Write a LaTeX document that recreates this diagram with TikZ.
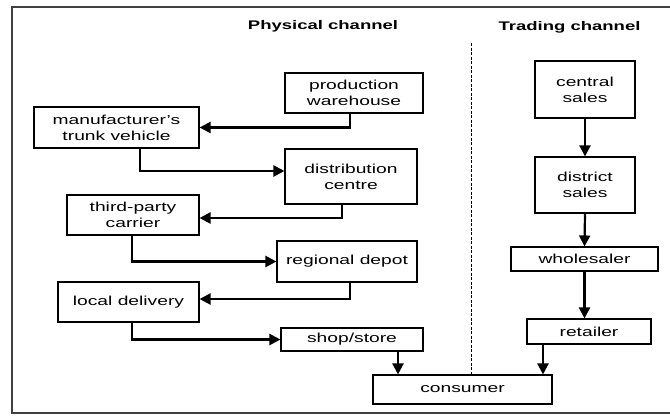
\documentclass[tikz,border=0pt]{standalone}
\usepackage{fontspec}
\setmainfont[FakeStretch=1.48]{Liberation Sans}
\usetikzlibrary{arrows.meta}
\begin{document}
\begin{tikzpicture}[x=1pt,y=-1pt,
  box/.style={draw, line width=1.1pt, inner sep=0pt, align=center,
    font=\fontsize{13}{16}\selectfont},
  hdr/.style={font=\fontsize{12.5}{15}\selectfont\bfseries},
  arr/.style={line width=2.2pt, -{Triangle[length=11pt,width=11pt]}},
  frame/.style={line width=1.2pt, draw=black!75}]
\useasboundingbox (0,0) rectangle (670,416);
% frame
\coordinate (f1) at (670,7);
\coordinate (f2) at (12,7);
\coordinate (f3) at (12,413);
\coordinate (f4) at (670,413);
\draw[frame] (f1) -- (f2) -- (f3) -- (f4);
% headers
\node[hdr] (hp) at (323,26) {Physical channel};
\node[hdr] (ht) at (569.5,27) {Trading channel};
% physical channel boxes
\node[box, minimum width=138pt, minimum height=40pt] (pw) at (354,93) {production\\warehouse};
\node[box, minimum width=165pt, minimum height=41pt] (mtv) at (116.5,127.5) {manufacturer’s\\trunk vehicle};
\node[box, minimum width=132pt, minimum height=55pt] (dc) at (351,176.5) {distribution\\centre};
\node[box, minimum width=132pt, minimum height=40pt] (tpc) at (133,215) {third-party\\carrier};
\node[box, minimum width=140pt, minimum height=41pt] (rd) at (347,261.5) {regional depot};
\node[box, minimum width=141pt, minimum height=40pt] (ld) at (128.5,302) {local delivery};
\node[box, minimum width=142pt, minimum height=23pt] (ss) at (352,339.5) {shop/store};
\node[box, minimum width=179pt, minimum height=29pt] (con) at (462.5,389.5) {consumer};
% trading channel boxes
\node[box, minimum width=100pt, minimum height=57pt] (cs) at (585,89.5) {central\\sales};
\node[box, minimum width=100pt, minimum height=56pt] (ds) at (585,185) {district\\sales};
\node[box, minimum width=147pt, minimum height=24pt] (wh) at (584.5,259) {wholesaler};
\node[box, minimum width=124pt, minimum height=25pt] (rt) at (589,331.5) {retailer};
% dashed divider
\coordinate (dtop) at (471,43);
\draw[line width=0.9pt, dash pattern=on 3pt off 1.5pt] (dtop) -- (dtop |- con.north);
% physical channel arrows
\draw[arr] ([xshift=-4pt]pw.south) |- (mtv.east);
\draw[arr] ([xshift=23.5pt]mtv.south) |- ([yshift=5.5pt]dc.west);
\draw[arr] ([xshift=-9pt]dc.south) |- ([yshift=-3pt]tpc.east);
\draw[arr] ([xshift=-1pt]tpc.south) |- (rd.west);
\draw[arr] ([xshift=3pt]rd.south) |- ([yshift=3pt]ld.east);
\draw[arr] ([xshift=3.5pt]ld.south) |- (ss.west);
\draw[arr] ([xshift=46pt]ss.south) -- ([xshift=46pt]ss.south |- con.north);
\draw[arr] ([xshift=-46pt]rt.south) -- ([xshift=-46pt]rt.south |- con.north);
% trading channel arrows
\draw[arr] (cs.south) -- (ds.north);
\draw[arr] (ds.south) -- (wh.north);
\draw[arr] (wh.south) -- (wh.south |- rt.north);
\end{tikzpicture}
\end{document}
